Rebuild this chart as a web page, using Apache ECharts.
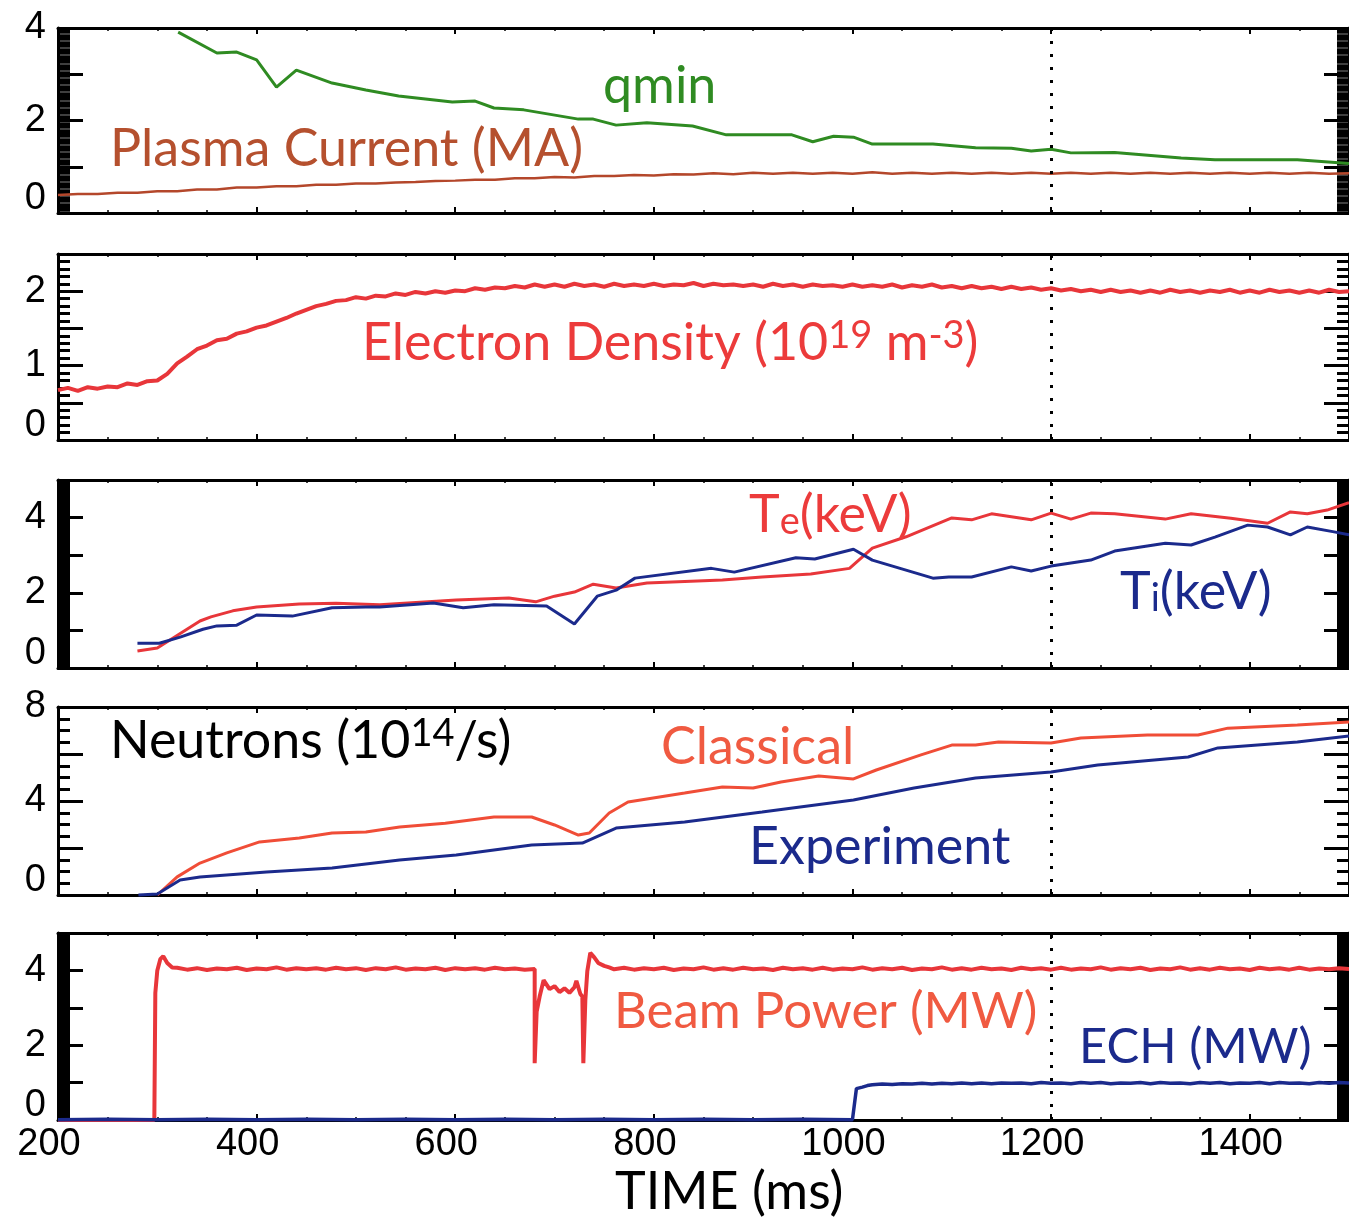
<!DOCTYPE html>
<html>
<head>
<meta charset="utf-8">
<script src="https://cdn.jsdelivr.net/npm/echarts/dist/echarts.min.js"></script>
<style>html,body{margin:0;padding:0;background:#fff}#c{width:1349px;height:1219px}</style>
</head>
<body>
<div id="c"></div>
<script>
// ---------------- DATA ----------------
const xTickLabels = [200, 400, 600, 800, 1000, 1200, 1400];
const markTime = 1200;

// Panel 1
const qminT = [321,360,380,400,420,440,476,510,543,597,620,639,669,724,739,762,793,839,873,939,960,981,1001,1020,1081,1124,1160,1180,1200,1220,1264,1331,1365,1448,1500];
const qminV = [3.91,3.46,3.48,3.31,2.72,3.09,2.81,2.66,2.53,2.40,2.42,2.27,2.23,2.03,2.03,1.90,1.95,1.88,1.69,1.69,1.54,1.66,1.64,1.49,1.49,1.41,1.40,1.34,1.38,1.30,1.31,1.19,1.15,1.15,1.07];
const ipStart = 200, ipStep = 20;
const ipV = [0.39,0.41,0.41,0.44,0.44,0.47,0.47,0.51,0.51,0.55,0.55,0.58,0.58,0.61,0.61,0.64,0.64,0.66,0.67,0.69,0.70,0.72,0.72,0.75,0.75,0.78,0.77,0.80,0.80,0.82,0.81,0.84,0.83,0.86,0.84,0.87,0.85,0.87,0.85,0.87,0.85,0.88,0.85,0.87,0.85,0.87,0.85,0.87,0.85,0.87,0.85,0.87,0.85,0.87,0.85,0.87,0.85,0.87,0.85,0.87,0.85,0.87,0.85,0.87,0.85,0.86];
const p1Labels = [0, 2, 4];

// Panel 2
const neStart = 200, neStep = 10;
const neV = [
 0.67,0.70,0.66,0.71,0.69,0.72,0.71,0.76,0.74,0.79,
 0.80,0.89,1.03,1.12,1.22,1.27,1.34,1.36,1.43,1.46,
 1.51,1.54,1.59,1.64,1.70,1.75,1.80,1.83,1.87,1.88,
 1.92,1.90,1.94,1.93,1.97,1.95,1.99,1.97,2.00,1.98,
 2.01,2.00,2.04,2.02,2.05,2.04,2.07,2.05,2.09,2.06,
 2.09,2.06,2.10,2.07,2.09,2.06,2.10,2.07,2.09,2.07,
 2.10,2.07,2.09,2.08,2.11,2.07,2.10,2.08,2.09,2.07,
 2.09,2.06,2.10,2.07,2.09,2.06,2.09,2.07,2.08,2.06,
 2.09,2.06,2.08,2.06,2.09,2.05,2.08,2.06,2.09,2.05,
 2.07,2.04,2.07,2.04,2.06,2.03,2.06,2.03,2.05,2.02,
 2.04,2.01,2.03,2.00,2.02,1.99,2.02,1.99,2.01,1.98,
 2.01,1.98,2.02,1.99,2.01,1.98,2.01,1.99,2.02,1.98,
 2.01,1.98,2.02,1.99,2.01,1.98,2.01,1.98,2.02,1.99,
 2.00];
const p2Labels = [0, 1, 2];

// Panel 3
const teT = [280,300,343,354,376,400,443,480,524,601,654,681,700,720,739,762,793,869,909,958,997,1020,1054,1100,1120,1140,1180,1200,1220,1240,1264,1315,1341,1381,1418,1441,1458,1478,1500];
const teV = [0.45,0.53,1.25,1.36,1.52,1.62,1.70,1.72,1.68,1.81,1.86,1.76,1.91,2.02,2.23,2.13,2.26,2.34,2.42,2.50,2.65,3.19,3.49,3.99,3.94,4.10,3.94,4.12,3.96,4.12,4.10,3.96,4.10,3.98,3.85,4.15,4.10,4.20,4.40];
const tiT = [280,302,323,346,360,380,400,436,476,510,524,578,608,639,692,720,743,762,781,858,881,943,962,1001,1020,1081,1097,1120,1160,1180,1200,1240,1264,1315,1341,1365,1398,1418,1441,1458,1485,1500];
const tiV = [0.66,0.66,0.82,1.03,1.12,1.14,1.41,1.38,1.60,1.62,1.62,1.73,1.60,1.68,1.65,1.17,1.91,2.07,2.39,2.65,2.55,2.93,2.90,3.16,2.87,2.39,2.42,2.42,2.69,2.58,2.71,2.87,3.11,3.32,3.27,3.48,3.80,3.75,3.54,3.75,3.62,3.54];
const p3Labels = [0, 2, 4];

// Panel 4
const classT = [300,320,343,370,403,443,476,510,544,590,639,677,700,724,735,755,774,831,869,900,928,966,1001,1024,1069,1100,1124,1147,1200,1230,1297,1348,1378,1448,1500];
const classV = [0.0,0.77,1.36,1.79,2.26,2.43,2.64,2.68,2.89,3.05,3.32,3.32,2.98,2.55,2.64,3.49,3.96,4.34,4.60,4.55,4.81,5.06,4.94,5.32,5.96,6.38,6.38,6.51,6.47,6.68,6.81,6.81,7.10,7.23,7.36];
const expT = [281,300,323,343,410,476,544,601,677,728,762,831,909,1001,1062,1124,1200,1247,1338,1368,1448,1500];
const expV = [0.0,0.04,0.64,0.77,0.98,1.15,1.49,1.70,2.13,2.21,2.85,3.11,3.53,4.04,4.55,4.98,5.23,5.53,5.87,6.26,6.51,6.77];
const p4Labels = [0, 4, 8];

// Panel 5
const beamRiseT = [200,250,297,298,300,303,306,310,315];
const beamRiseV = [0,0,0,3.4,4.0,4.3,4.38,4.2,4.08];
const beamFlat1Start = 320, beamFlatStep = 10;
const beamFlat1V = [4.07,4.02,4.06,4.01,4.05,4.03,4.07,4.01,4.05,4.03,4.08,4.02,4.06,4.03,4.06,4.02,4.07,4.03,4.06,4.01,4.06,4.03,4.08,4.02,4.05,4.03,4.07,4.01,4.06,4.03,4.06,4.02,4.07,4.03,4.05,4.02,4.04];
const beamDipT = [679,680,682,685,689,695,700,705,710,715,720,722,726,728,729,731,733,736,740,744,750,755];
const beamDipV = [4.02,1.52,2.9,3.3,3.74,3.50,3.58,3.42,3.52,3.40,3.55,3.72,3.37,3.30,1.52,3.2,3.98,4.47,4.35,4.20,4.12,4.08];
const beamFlat2Start = 760;
const beamFlat2V = [4.03,4.07,4.02,4.06,4.03,4.07,4.01,4.05,4.03,4.08,4.02,4.06,4.02,4.07,4.03,4.05,4.01,4.07,4.03,4.06,4.02,4.07,4.02,4.05,4.03,4.08,4.02,4.06,4.03,4.07,4.01,4.05,4.03,4.08,4.02,4.06,4.02,4.07,4.03,4.05,4.01,4.07,4.03,4.06,4.02,4.07,4.02,4.05,4.03,4.08,4.02,4.06,4.03,4.07,4.01,4.05,4.03,4.08,4.02,4.06,4.02,4.07,4.03,4.05,4.01,4.07,4.03,4.06,4.02,4.07,4.02,4.05,4.03,4.06,4.04];
const echZeroStart = 200, echZeroStep = 50;
const echZeroV = [0.01,0.02,0.01,0.02,0.01,0.02,0.01,0.02,0.01,0.02,0.01,0.02,0.01,0.02,0.01,0.02,0.01];
const echStepT = [1002,1004,1010,1015];
const echStepV = [0.01,0.84,0.88,0.92];
const echFlatStart = 1020, echFlatStep = 10;
const echFlatV = [0.94,0.96,0.95,0.97,0.96,0.98,0.96,0.98,0.97,0.99,0.97,0.99,0.97,0.99,0.98,0.99,0.97,1.00,0.98,0.99,0.97,1.00,0.98,1.00,0.97,0.99,0.98,1.00,0.97,1.00,0.98,0.99,0.97,1.00,0.98,1.00,0.97,0.99,0.98,1.00,0.97,1.00,0.98,0.99,0.97,1.00,0.98,1.00,0.99];
const p5Labels = [0, 2, 4];

// ---------------- HELPERS ----------------
const pairs = (T, V) => T.map((t, i) => [t, V[i]]);
const seq = (s, st, V) => V.map((v, i) => [s + i * st, v]);

const C = {
  green: '#2f8b22', brown: '#b4472b', red: '#e8363a', navy: '#1b2a8c', orange: '#f04d37',
  tBrown: '#b5502e', tRed: '#ec3b3b', tOrange: '#f05a41'
};

const grids = [
  {top: 28, height: 185},
  {top: 254, height: 186},
  {top: 480, height: 188},
  {top: 707, height: 188},
  {top: 933, height: 187}
];
const yCfg = [
  {max: 4, interval: 1, minor: 20, mw: 2.5, labels: p1Labels},
  {max: 2.5, interval: 0.5, minor: 5, mw: 3, labels: p2Labels},
  {max: 5, interval: 1, minor: 20, mw: 2.5, labels: p3Labels},
  {max: 8, interval: 2, minor: 4, mw: 3, labels: p4Labels},
  {max: 5, interval: 1, minor: 20, mw: 2.5, labels: p5Labels}
];

const LBL_FONT = '"Liberation Sans", Arial, sans-serif';
const TXT_FONT = 'Lato, "Open Sans", sans-serif';

const grid = grids.map(g => ({left: 58, width: 1293, top: g.top, height: g.height}));
const xAxis = [];
const yAxis = [];
grids.forEach((g, i) => {
  ['bottom', 'top'].forEach(pos => {
    const showLbl = (pos === 'bottom' && i === 4);
    xAxis.push({
      gridIndex: i, type: 'value', position: pos, min: 200, max: 1500, interval: 200,
      axisLine: {onZero: false, lineStyle: {color: '#000', width: 3}},
      axisTick: {inside: true, length: 6, lineStyle: {color: '#000', width: 2}},
      minorTick: {show: true, splitNumber: 4, length: 3, lineStyle: {color: '#000', width: 1.5}},
      splitLine: {show: false}, minorSplitLine: {show: false},
      axisLabel: {
        show: showLbl, fontFamily: LBL_FONT, fontSize: 38, color: '#000', margin: 6,
        padding: [0, 18, 0, 0],
        showMinLabel: true, showMaxLabel: false,
        formatter: v => xTickLabels.includes(v) ? String(v) : ''
      }
    });
  });
  const yc = yCfg[i];
  ['left', 'right'].forEach(pos => {
    yAxis.push({
      gridIndex: i, type: 'value', position: pos, min: 0, max: yc.max, interval: yc.interval,
      axisLine: {onZero: false, lineStyle: {color: '#000', width: 3}},
      axisTick: {inside: true, length: 25, lineStyle: {color: '#000', width: 3}},
      minorTick: {show: true, splitNumber: yc.minor, length: 12, lineStyle: {color: '#000', width: yc.mw}},
      splitLine: {show: false}, minorSplitLine: {show: false},
      axisLabel: {
        show: pos === 'left', fontFamily: LBL_FONT, fontSize: 38, color: '#000', margin: 12,
        showMinLabel: true, showMaxLabel: true,
        formatter: v => {
          if (!yc.labels.some(l => Math.abs(l - v) < 1e-9)) return '';
          return v === 0 ? '{z|0}' : String(v);
        },
        rich: {z: {fontFamily: LBL_FONT, fontSize: 38, color: '#000', padding: [0, 0, 28, 0]}}
      }
    });
  });
});

const mk = {
  silent: true, symbol: ['none', 'none'], animation: false,
  label: {show: false},
  lineStyle: {color: '#000', width: 3, type: [3, 10]},
  data: [{xAxis: markTime}]
};
function line(i, data, color, width, withMark) {
  const s = {
    type: 'line', xAxisIndex: 2 * i, yAxisIndex: 2 * i, data: data,
    showSymbol: false, symbol: 'none', clip: false, animation: false,
    lineStyle: {color: color, width: width}, z: 3
  };
  if (withMark) s.markLine = mk;
  return s;
}

const beamData = [].concat(pairs(beamRiseT, beamRiseV), seq(beamFlat1Start, beamFlatStep, beamFlat1V),
  pairs(beamDipT, beamDipV), seq(beamFlat2Start, beamFlatStep, beamFlat2V));
const echData = [].concat(seq(echZeroStart, echZeroStep, echZeroV), pairs(echStepT, echStepV),
  seq(echFlatStart, echFlatStep, echFlatV));

const series = [
  line(0, seq(ipStart, ipStep, ipV), C.brown, 2.5, true),
  line(0, pairs(qminT, qminV), C.green, 3, false),
  line(1, seq(neStart, neStep, neV), C.red, 4, true),
  line(2, pairs(teT, teV), C.red, 3, true),
  line(2, pairs(tiT, tiV), C.navy, 3, false),
  line(3, pairs(classT, classV), C.orange, 3, true),
  line(3, pairs(expT, expV), C.navy, 3, false),
  line(4, beamData, C.red, 4, true),
  line(4, echData, C.navy, 3.5, false)
];

function txt(x, y, text, color, rich, size) {
  return {
    type: 'text', x: x, y: y, silent: true, z: 10,
    style: {
      text: text, fill: color, fontFamily: TXT_FONT, fontSize: size || 52,
      align: 'left', verticalAlign: 'middle', rich: rich || {}
    }
  };
}
const supR = c => ({
  n: {fontFamily: TXT_FONT, fontSize: 52, fill: c},
  sup: {fontFamily: TXT_FONT, fontSize: 38, fill: c, verticalAlign: 'top'},
  sub: {fontFamily: TXT_FONT, fontSize: 38, fill: c, verticalAlign: 'bottom'}
});

const graphic = [
  txt(603, 86, 'qmin', C.green),
  txt(110, 149, 'Plasma Current (MA)', C.tBrown),
  txt(362, 343, '{n|Electron Density (10}{sup|19}{n| m}{sup|-3}{n|)}', C.tRed, supR(C.tRed)),
  txt(749, 515, '{n|T}{sub|e}{n|(keV)}', C.tRed, supR(C.tRed)),
  txt(1120, 592, '{n|T}{sub|i}{n|(keV)}', C.navy, supR(C.navy)),
  txt(110, 741, '{n|Neutrons (10}{sup|14}{n|/s)}', '#000', supR('#000')),
  txt(661, 747, 'Classical', C.tOrange),
  txt(749, 847, 'Experiment', C.navy),
  txt(614, 1012, 'Beam Power (MW)', C.tOrange, null, 51),
  txt(1079, 1047, 'ECH (MW)', C.navy, null, 49),
  txt(615, 1192, 'TIME (ms)', '#000')
];

const chart = echarts.init(document.getElementById('c'), null, {renderer: 'canvas'});
chart.setOption({
  animation: false, backgroundColor: '#fff',
  grid: grid, xAxis: xAxis, yAxis: yAxis, series: series, graphic: graphic
});
</script>
</body>
</html>
